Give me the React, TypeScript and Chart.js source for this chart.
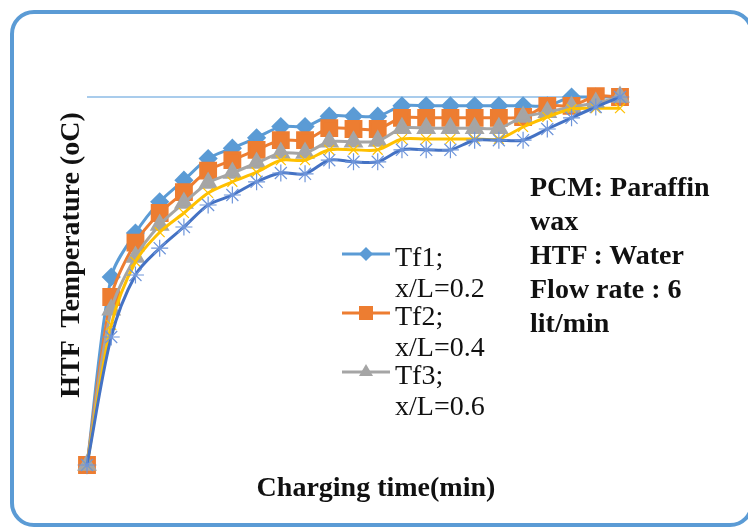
import React, { useEffect, useRef } from "react";
import { Chart, registerables } from "chart.js";

Chart.register(...registerables);

// Charging time points (min)
const timeLabels = ["0", "5", "10", "15", "20", "25", "30", "35", "40", "45", "50", "55", "60", "65", "70", "75", "80", "85", "90", "95", "100", "105", "110"];

// HTF temperatures (oC)
const tf1 = [25, 48.5, 54, 57.9, 60.6, 63.3, 64.6, 65.9, 67.3, 67.3, 68.6, 68.6, 68.6, 69.9, 69.9, 69.9, 69.9, 69.9, 69.9, 69.9, 71, 71, 71];
const tf2 = [25, 46, 52.8, 56.5, 59.1, 61.8, 63.1, 64.4, 65.6, 65.6, 67.1, 67, 67, 68.4, 68.4, 68.4, 68.4, 68.4, 68.5, 69.9, 69.9, 71.1, 71];
const tf3 = [25, 44.4, 51, 55, 57.75, 60.25, 61.5, 62.75, 64, 64, 65.4, 65.4, 65.5, 67.1, 67.1, 67.1, 67.1, 67.1, 68.5, 69.1, 69.75, 70.25, 71];
const tf4 = [25, 42.5, 50.4, 54.1, 56.5, 59, 60.4, 61.6, 63.1, 63.1, 64.4, 64.4, 64.4, 65.75, 65.75, 65.75, 65.75, 65.75, 67.25, 68.5, 69.5, 69.6, 69.6];
const tf5 = [25, 41, 48.75, 52.1, 54.75, 57.5, 58.75, 60.4, 61.5, 61.4, 63.1, 62.9, 62.9, 64.4, 64.4, 64.4, 65.6, 65.6, 65.6, 67, 68.4, 69.75, 71];
const referenceLevel = 71;

const yMin = 25;
const yMax = 71;

const legendNames = ["Tf1;", "Tf2;", "Tf3;"];
const legendSubs = ["x/L=0.2", "x/L=0.4", "x/L=0.6"];

const infoLines = ["PCM: Paraffin", "wax", "HTF : Water", "Flow rate : 6", "lit/min"];

const xTitle = "Charging time(min)";
const yTitle = "HTF  Temperature (oC)";

const C1 = "#5B9BD5";
const C2 = "#ED7D31";
const C3 = "#A5A5A5";
const C4 = "#FFC000";
const C5 = "#4472C4";

export default function App() {
  const ref = useRef<HTMLCanvasElement | null>(null);

  useEffect(() => {
    if (!ref.current) return;
    const common = { borderWidth: 3, clip: false as any, tension: 0.3 };
    const chart = new Chart(ref.current, {
      type: "line",
      data: {
        labels: timeLabels,
        datasets: [
          {
            label: "Tf1; x/L=0.2",
            data: tf1,
            borderColor: C1,
            backgroundColor: C1,
            pointBackgroundColor: C1,
            pointBorderColor: C1,
            pointStyle: "rectRot",
            pointRadius: 7.5,
            order: 5,
            ...common,
          },
          {
            label: "Tf2; x/L=0.4",
            data: tf2,
            borderColor: C2,
            backgroundColor: C2,
            pointBackgroundColor: C2,
            pointBorderColor: C2,
            pointStyle: "rect",
            pointRadius: 10.5,
            order: 4,
            ...common,
          },
          {
            label: "Tf3; x/L=0.6",
            data: tf3,
            borderColor: C3,
            backgroundColor: C3,
            pointBackgroundColor: C3,
            pointBorderColor: C3,
            pointStyle: "triangle",
            pointRadius: 8.5,
            order: 3,
            ...common,
          },
          {
            label: "Tf4",
            data: tf4,
            borderColor: C4,
            backgroundColor: C4,
            pointBorderColor: C4,
            pointStyle: "crossRot",
            pointRadius: 7,
            pointBorderWidth: 1.2,
            order: 2,
            ...common,
          },
          {
            label: "Tf5",
            data: tf5,
            borderColor: C5,
            backgroundColor: C5,
            pointBorderColor: "#6E95DA",
            pointStyle: "star",
            pointRadius: 8.5,
            pointBorderWidth: 1.2,
            order: 1,
            ...common,
          },
          {
            label: "ref",
            data: timeLabels.map(() => referenceLevel),
            borderColor: "#8DBBE6",
            borderWidth: 1.5,
            pointRadius: 0,
            tension: 0,
            clip: false as any,
            order: 10,
          },
        ],
      },
      options: {
        animation: false,
        responsive: false,
        maintainAspectRatio: false,
        layout: { padding: { left: 87, right: 128, top: 97, bottom: 63 }, autoPadding: false },
        plugins: { legend: { display: false }, tooltip: { enabled: false } },
        scales: {
          x: { display: false, offset: false },
          y: { display: false, min: yMin, max: yMax },
        },
      },
    });
    return () => chart.destroy();
  }, []);

  const serif = '"Liberation Serif", "Times New Roman", serif';
  const legendY = [254, 313, 372];
  const legendColors = [C1, C2, C3];

  return (
    <div style={{ position: "fixed", left: 0, top: 0, width: 748, height: 528, overflow: "hidden", background: "#fff" }}>
      <div
        style={{
          position: "absolute",
          left: 10,
          top: 10,
          width: 744,
          height: 517,
          border: "4px solid #5B9BD5",
          borderRadius: 24,
          boxSizing: "border-box",
        }}
      />
      <canvas ref={ref} width={748} height={528} style={{ position: "absolute", left: 0, top: 0, display: "block" }} />
      <svg width={748} height={528} style={{ position: "absolute", left: 0, top: 0, pointerEvents: "none" }}>
        {legendY.map((y, i) => (
          <line key={"l" + i} x1={342} y1={y} x2={390} y2={y} stroke={legendColors[i]} strokeWidth={3} />
        ))}
        <polygon points={`366,${legendY[0] - 7} 373,${legendY[0]} 366,${legendY[0] + 7} 359,${legendY[0]}`} fill={C1} />
        <rect x={359} y={legendY[1] - 7} width={14} height={14} fill={C2} />
        <polygon points={`366,${legendY[2] - 8} 373,${legendY[2] + 4} 359,${legendY[2] + 4}`} fill={C3} />
      </svg>
      {legendNames.map((n, i) => (
        <React.Fragment key={"t" + i}>
          <div style={{ position: "absolute", left: 395, top: legendY[i] + 3 - 16, fontFamily: serif, fontSize: 28, lineHeight: "32px", color: "#111", whiteSpace: "pre" }}>
            {n}
          </div>
          <div style={{ position: "absolute", left: 395, top: legendY[i] + 34 - 16, fontFamily: serif, fontSize: 28, lineHeight: "32px", color: "#111", whiteSpace: "pre" }}>
            {legendSubs[i]}
          </div>
        </React.Fragment>
      ))}
      {infoLines.map((t, i) => (
        <div
          key={"i" + i}
          style={{
            position: "absolute",
            left: 530,
            top: 187 + i * 34 - 16,
            fontFamily: serif,
            fontWeight: "bold",
            fontSize: 28,
            lineHeight: "32px",
            color: "#111",
            whiteSpace: "pre",
          }}
        >
          {t}
        </div>
      ))}
      <div
        style={{
          position: "absolute",
          left: 376,
          top: 487,
          transform: "translate(-50%, -50%)",
          fontFamily: serif,
          fontWeight: "bold",
          fontSize: 28,
          lineHeight: "32px",
          color: "#111",
          whiteSpace: "pre",
        }}
      >
        {xTitle}
      </div>
      <div
        style={{
          position: "absolute",
          left: 70,
          top: 255,
          transform: "translate(-50%, -50%) rotate(-90deg)",
          fontFamily: serif,
          fontWeight: "bold",
          fontSize: 28,
          lineHeight: "32px",
          color: "#111",
          whiteSpace: "pre",
        }}
      >
        {yTitle}
      </div>
    </div>
  );
}
